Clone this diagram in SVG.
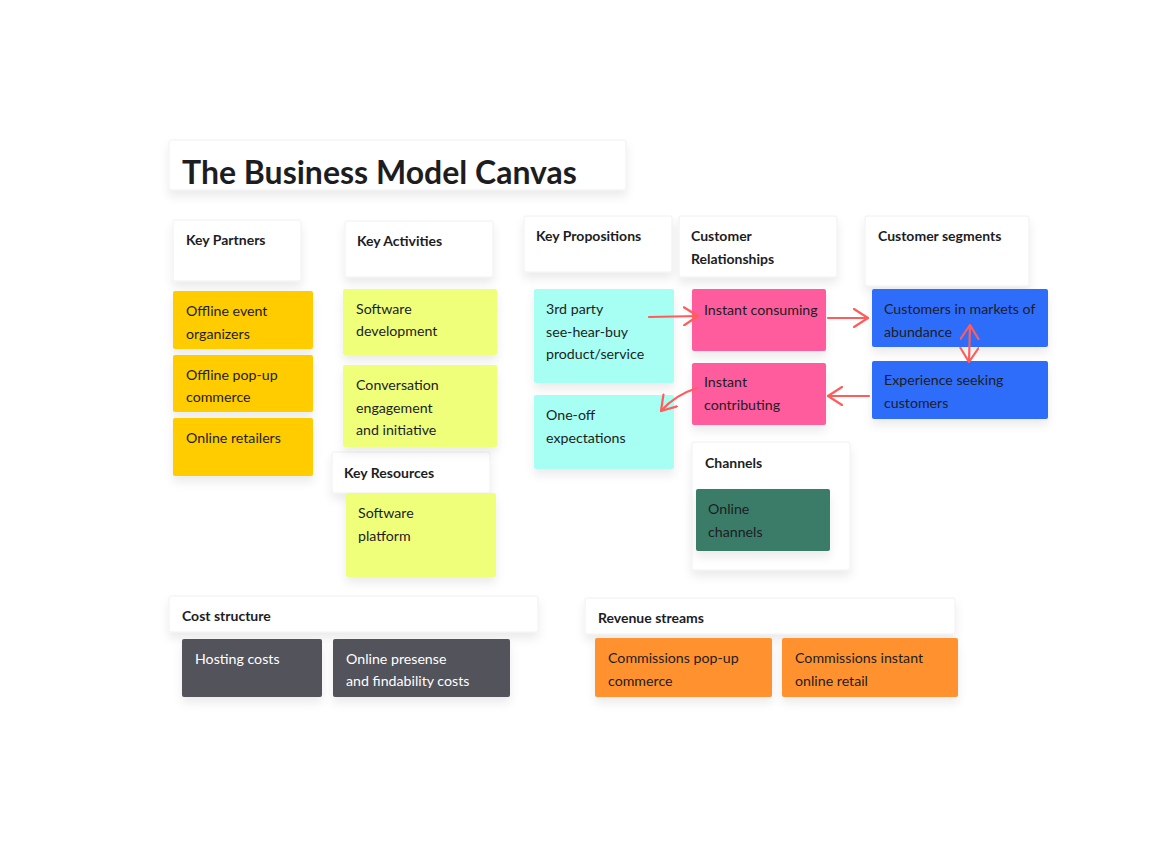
<svg xmlns="http://www.w3.org/2000/svg" width="1174" height="860" viewBox="0 0 1174 860">
  <defs>
    <filter id="shadow" x="-20%" y="-20%" width="140%" height="160%">
      <feDropShadow dx="0" dy="6" stdDeviation="5" flood-color="#000" flood-opacity="0.08"/>
    </filter>
    <marker id="chev" viewBox="0 0 16 20" refX="15" refY="10" markerWidth="16" markerHeight="20" markerUnits="userSpaceOnUse" orient="auto-start-reverse">
      <path d="M1,1 L15,10 L1,19" fill="none" stroke="#FF5C5C" stroke-width="2.2" stroke-linecap="round" stroke-linejoin="round"/>
    </marker>
  </defs>
  <style>
    .frame { fill: #ffffff; stroke: #f0f0f0; stroke-width: 1; filter: url(#shadow); }
    .sticky { filter: url(#shadow); }
    .head { font-family: Lato, "Noto Sans", sans-serif; font-weight: 700; font-size: 14px; fill: #1d1d1f; }
    .title { font-family: Lato, "Noto Sans", sans-serif; font-weight: 700; font-size: 32px; fill: #1d1d1f; }
    .txt { font-family: Lato, "Noto Sans", sans-serif; font-size: 14.2px; fill: #1d1d1f; }
    .wtxt { font-family: Lato, "Noto Sans", sans-serif; font-size: 14.2px; fill: #ffffff; }
    .link { fill: none; stroke: #FF5C5C; stroke-width: 2.2; stroke-linecap: round; }
  </style>
  <rect width="1174" height="860" fill="#ffffff"/>

  <g id="title">
    <rect class="frame" x="169" y="140" width="457" height="50" rx="2"/>
    <text class="title" x="182" y="184">The Business Model Canvas</text>
  </g>

  <!-- section frames -->
  <g id="key-partners">
    <rect class="frame" x="173" y="220" width="128" height="61" rx="2"/>
    <text class="head" x="186" y="245">Key Partners</text>
  </g>
  <g id="key-activities">
    <rect class="frame" x="345" y="221" width="148" height="56" rx="2"/>
    <text class="head" x="357" y="246">Key Activities</text>
  </g>
  <g id="key-propositions">
    <rect class="frame" x="524" y="216" width="148" height="56" rx="2"/>
    <text class="head" x="536" y="241">Key Propositions</text>
  </g>
  <g id="customer-relationships">
    <rect class="frame" x="679" y="216" width="158" height="61" rx="2"/>
    <text class="head" x="691" y="241">Customer</text>
    <text class="head" x="691" y="264">Relationships</text>
  </g>
  <g id="customer-segments">
    <rect class="frame" x="865" y="216" width="164" height="70" rx="2"/>
    <text class="head" x="878" y="241">Customer segments</text>
  </g>
  <g id="key-resources">
    <rect class="frame" x="332" y="452" width="158" height="41" rx="2"/>
    <text class="head" x="344" y="478">Key Resources</text>
  </g>
  <g id="channels">
    <rect class="frame" x="692" y="442" width="158" height="128" rx="2"/>
    <text class="head" x="705" y="468">Channels</text>
  </g>
  <g id="cost-structure">
    <rect class="frame" x="169" y="596" width="369" height="36" rx="2"/>
    <text class="head" x="182" y="621">Cost structure</text>
  </g>
  <g id="revenue-streams">
    <rect class="frame" x="585" y="598" width="370" height="36" rx="2"/>
    <text class="head" x="598" y="623">Revenue streams</text>
  </g>

  <!-- Key partners -->
  <g id="offline-event-organizers">
    <rect class="sticky" x="173" y="291" width="140" height="58" rx="2" fill="#FFCC00"/>
    <text class="txt" x="186" y="316">Offline event</text>
    <text class="txt" x="186" y="339">organizers</text>
  </g>
  <g id="offline-popup-commerce">
    <rect class="sticky" x="173" y="355" width="140" height="57" rx="2" fill="#FFCC00"/>
    <text class="txt" x="186" y="380">Offline pop-up</text>
    <text class="txt" x="186" y="402">commerce</text>
  </g>
  <g id="online-retailers">
    <rect class="sticky" x="173" y="418" width="140" height="58" rx="2" fill="#FFCC00"/>
    <text class="txt" x="186" y="443">Online retailers</text>
  </g>

  <!-- Key activities / resources -->
  <g id="software-development">
    <rect class="sticky" x="343" y="289" width="154" height="66" rx="2" fill="#EFFF7A"/>
    <text class="txt" x="356" y="314">Software</text>
    <text class="txt" x="356" y="336">development</text>
  </g>
  <g id="conversation-engagement">
    <rect class="sticky" x="343" y="365" width="154" height="82" rx="2" fill="#EFFF7A"/>
    <text class="txt" x="356" y="390">Conversation</text>
    <text class="txt" x="356" y="413">engagement</text>
    <text class="txt" x="356" y="435">and initiative</text>
  </g>
  <g id="software-platform">
    <rect class="sticky" x="346" y="493" width="150" height="84" rx="2" fill="#EFFF7A"/>
    <text class="txt" x="358" y="518">Software</text>
    <text class="txt" x="358" y="541">platform</text>
  </g>

  <!-- Key propositions -->
  <g id="see-hear-buy">
    <rect class="sticky" x="534" y="289" width="140" height="94" rx="2" fill="#A6FFF2"/>
    <text class="txt" x="546" y="314">3rd party</text>
    <text class="txt" x="546" y="337">see-hear-buy</text>
    <text class="txt" x="546" y="359">product/service</text>
  </g>
  <g id="one-off-expectations">
    <rect class="sticky" x="534" y="395" width="140" height="74" rx="2" fill="#A6FFF2"/>
    <text class="txt" x="546" y="420">One-off</text>
    <text class="txt" x="546" y="443">expectations</text>
  </g>

  <!-- Customer relationships -->
  <g id="instant-consuming">
    <rect class="sticky" x="692" y="289" width="134" height="62" rx="2" fill="#FF5C9E"/>
    <text class="txt" x="704" y="315">Instant consuming</text>
  </g>
  <g id="instant-contributing">
    <rect class="sticky" x="692" y="363" width="134" height="62" rx="2" fill="#FF5C9E"/>
    <text class="txt" x="704" y="387">Instant</text>
    <text class="txt" x="704" y="410">contributing</text>
  </g>

  <!-- Customer segments -->
  <g id="markets-of-abundance">
    <rect class="sticky" x="872" y="289" width="176" height="58" rx="2" fill="#2D6DFA"/>
    <text class="txt" x="884" y="314">Customers in markets of</text>
    <text class="txt" x="884" y="337">abundance</text>
  </g>
  <g id="experience-seeking">
    <rect class="sticky" x="872" y="361" width="176" height="58" rx="2" fill="#2D6DFA"/>
    <text class="txt" x="884" y="385">Experience seeking</text>
    <text class="txt" x="884" y="408">customers</text>
  </g>

  <!-- Channels -->
  <g id="online-channels">
    <rect class="sticky" x="696" y="489" width="134" height="62" rx="2" fill="#3A7B69"/>
    <text class="txt" x="708" y="514">Online</text>
    <text class="txt" x="708" y="537">channels</text>
  </g>

  <!-- Cost structure -->
  <g id="hosting-costs">
    <rect class="sticky" x="182" y="639" width="140" height="58" rx="2" fill="#52535B"/>
    <text class="wtxt" x="195" y="664">Hosting costs</text>
  </g>
  <g id="online-presense">
    <rect class="sticky" x="333" y="639" width="177" height="58" rx="2" fill="#52535B"/>
    <text class="wtxt" x="346" y="664">Online presense</text>
    <text class="wtxt" x="346" y="686">and findability costs</text>
  </g>

  <!-- Revenue streams -->
  <g id="commissions-popup">
    <rect class="sticky" x="595" y="638" width="177" height="59" rx="2" fill="#FF922E"/>
    <text class="txt" x="608" y="663">Commissions pop-up</text>
    <text class="txt" x="608" y="686">commerce</text>
  </g>
  <g id="commissions-instant">
    <rect class="sticky" x="782" y="638" width="176" height="59" rx="2" fill="#FF922E"/>
    <text class="txt" x="795" y="663">Commissions instant</text>
    <text class="txt" x="795" y="686">online retail</text>
  </g>

  <!-- connectors -->
  <g id="connectors">
    <path class="link" d="M649,317 L698,316" marker-end="url(#chev)"/>
    <path class="link" d="M828,318 L868,318" marker-end="url(#chev)"/>
    <path class="link" d="M970,325 L969,362" marker-start="url(#chev)" marker-end="url(#chev)"/>
    <path class="link" d="M869,396 L828,396" marker-end="url(#chev)"/>
    <path class="link" d="M697,388 Q675,395 661,411" marker-end="url(#chev)"/>
  </g>
</svg>
